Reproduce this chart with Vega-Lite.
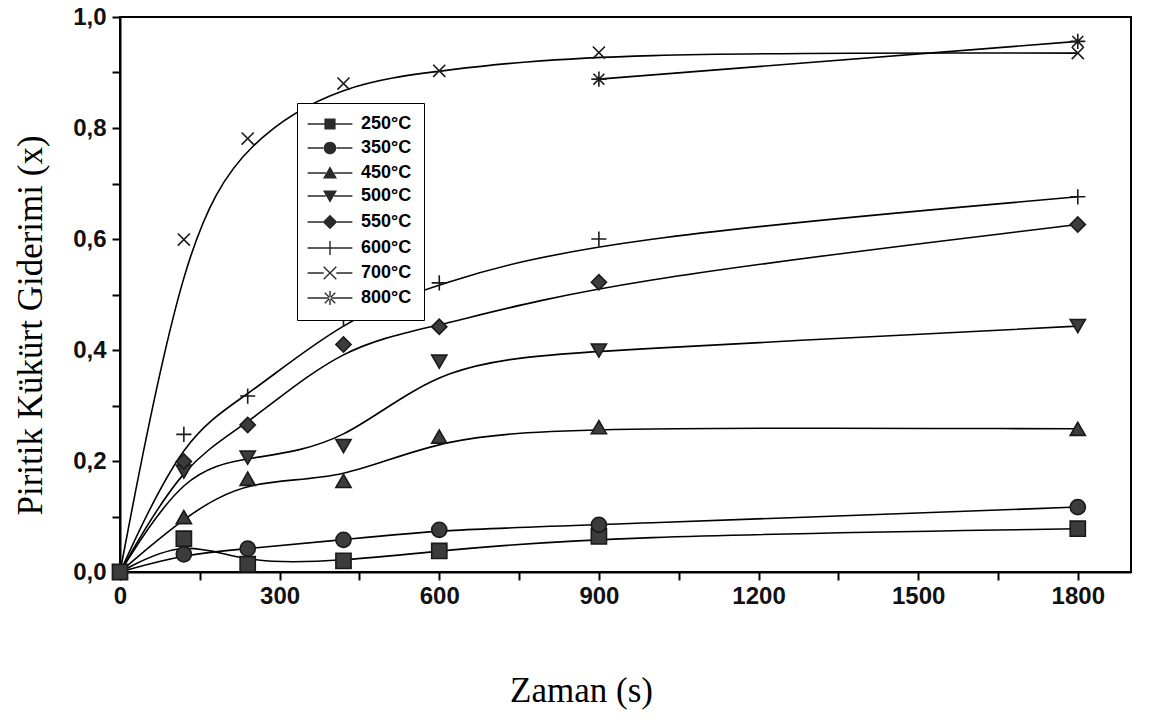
{
  "$schema": "https://vega.github.io/schema/vega-lite/v6.json",
  "width": 1011,
  "height": 555,
  "autosize": {"type": "none"},
  "padding": {"left": 120, "top": 17, "right": 24, "bottom": 148},
  "background": "white",
  "data": {
    "values": [
      {"T": "250°C", "t": 0, "x": 0},
      {"T": "250°C", "t": 120, "x": 0.06},
      {"T": "250°C", "t": 240, "x": 0.014},
      {"T": "250°C", "t": 420, "x": 0.02},
      {"T": "250°C", "t": 600, "x": 0.038},
      {"T": "250°C", "t": 900, "x": 0.064},
      {"T": "250°C", "t": 1800, "x": 0.078},
      {"T": "350°C", "t": 0, "x": 0},
      {"T": "350°C", "t": 120, "x": 0.032},
      {"T": "350°C", "t": 240, "x": 0.042},
      {"T": "350°C", "t": 420, "x": 0.058},
      {"T": "350°C", "t": 600, "x": 0.076},
      {"T": "350°C", "t": 900, "x": 0.085},
      {"T": "350°C", "t": 1800, "x": 0.117},
      {"T": "450°C", "t": 0, "x": 0},
      {"T": "450°C", "t": 120, "x": 0.099},
      {"T": "450°C", "t": 240, "x": 0.168},
      {"T": "450°C", "t": 420, "x": 0.164},
      {"T": "450°C", "t": 600, "x": 0.244},
      {"T": "450°C", "t": 900, "x": 0.261},
      {"T": "450°C", "t": 1800, "x": 0.258},
      {"T": "500°C", "t": 0, "x": 0},
      {"T": "500°C", "t": 120, "x": 0.181},
      {"T": "500°C", "t": 240, "x": 0.206},
      {"T": "500°C", "t": 420, "x": 0.227},
      {"T": "500°C", "t": 600, "x": 0.379},
      {"T": "500°C", "t": 900, "x": 0.399},
      {"T": "500°C", "t": 1800, "x": 0.443},
      {"T": "550°C", "t": 0, "x": 0},
      {"T": "550°C", "t": 120, "x": 0.199},
      {"T": "550°C", "t": 240, "x": 0.265},
      {"T": "550°C", "t": 420, "x": 0.41},
      {"T": "550°C", "t": 600, "x": 0.442},
      {"T": "550°C", "t": 900, "x": 0.522},
      {"T": "550°C", "t": 1800, "x": 0.626},
      {"T": "600°C", "t": 0, "x": 0},
      {"T": "600°C", "t": 120, "x": 0.248},
      {"T": "600°C", "t": 240, "x": 0.317},
      {"T": "600°C", "t": 420, "x": 0.455},
      {"T": "600°C", "t": 600, "x": 0.521},
      {"T": "600°C", "t": 900, "x": 0.6},
      {"T": "600°C", "t": 1800, "x": 0.676},
      {"T": "700°C", "t": 0, "x": 0},
      {"T": "700°C", "t": 120, "x": 0.599},
      {"T": "700°C", "t": 240, "x": 0.781},
      {"T": "700°C", "t": 420, "x": 0.88},
      {"T": "700°C", "t": 600, "x": 0.903},
      {"T": "700°C", "t": 900, "x": 0.936},
      {"T": "700°C", "t": 1800, "x": 0.935},
      {"T": "800°C", "t": 900, "x": 0.888},
      {"T": "800°C", "t": 1800, "x": 0.956}
    ]
  },
  "encoding": {
    "x": {
      "field": "t",
      "type": "quantitative",
      "title": "Zaman (s)",
      "scale": {"domain": [0, 1900], "nice": false, "zero": false},
      "axis": {
        "values": [0, 150, 300, 450, 600, 750, 900, 1050, 1200, 1350, 1500, 1650, 1800],
        "labelExpr": "datum.value % 300 == 0 ? '' + datum.value : ''",
        "grid": false,
        "domainColor": "black",
        "domainWidth": 2,
        "tickColor": "black",
        "tickWidth": 2,
        "tickSize": 8,
        "labelFont": "Liberation Sans",
        "labelFontSize": 24,
        "labelFontWeight": "bold",
        "labelColor": "#111",
        "labelPadding": 4,
        "labelFlush": false,
        "labelOverlap": false,
        "titleFont": "Liberation Serif",
        "titleFontSize": 35,
        "titleFontWeight": "normal",
        "titleColor": "black",
        "titleX": 461,
        "titleY": 118,
        "titleAlign": "center",
        "titleBaseline": "middle"
      }
    },
    "y": {
      "field": "x",
      "type": "quantitative",
      "title": "Piritik Kükürt Giderimi (x)",
      "scale": {"domain": [0, 1], "nice": false},
      "axis": {
        "values": [0, 0.1, 0.2, 0.3, 0.4, 0.5, 0.6, 0.7, 0.8, 0.9, 1],
        "labelExpr": "round(datum.value * 10) % 2 == 0 ? replace(format(datum.value, '.1f'), '.', ',') : ''",
        "grid": false,
        "domainColor": "black",
        "domainWidth": 2,
        "tickColor": "black",
        "tickWidth": 2,
        "tickSize": 8,
        "labelFont": "Liberation Sans",
        "labelFontSize": 24,
        "labelFontWeight": "bold",
        "labelColor": "#111",
        "labelPadding": 6,
        "labelOverlap": false,
        "titleFont": "Liberation Serif",
        "titleFontSize": 35,
        "titleFontWeight": "normal",
        "titleColor": "black",
        "titleAngle": -90,
        "titleX": -90,
        "titleY": 308,
        "titleAlign": "center",
        "titleBaseline": "middle"
      }
    }
  },
  "layer": [
    {
      "mark": {"type": "line", "interpolate": "basis", "color": "black", "strokeWidth": 1.6},
      "encoding": {"detail": {"field": "T", "type": "nominal"}}
    },
    {
      "transform": [{"filter": "datum.t > 0 || datum.T == '250°C'"}],
      "mark": {"type": "point", "filled": true, "fill": "#3c3c3c", "stroke": "#1a1a1a", "strokeWidth": 1.6, "size": 230, "opacity": 1},
      "encoding": {
        "shape": {
          "field": "T",
          "type": "nominal",
          "legend": null,
          "scale": {
            "domain": ["250°C", "350°C", "450°C", "500°C", "550°C", "600°C", "700°C", "800°C"],
            "range": [
              "square",
              "circle",
              "triangle-up",
              "triangle-down",
              "diamond",
              "M-1,0L1,0M0,-1L0,1",
              "M-0.8,-0.8L0.8,0.8M-0.8,0.8L0.8,-0.8",
              "M-1,0L1,0M0,-1L0,1M-0.72,-0.72L0.72,0.72M-0.72,0.72L0.72,-0.72"
            ]
          }
        }
      }
    },
    {
      "mark": {"type": "point", "filled": true, "fill": "#2a2a2a", "size": 196, "opacity": 0},
      "encoding": {
        "shape": {
          "field": "T",
          "type": "nominal",
          "scale": {
            "domain": ["250°C", "350°C", "450°C", "500°C", "550°C", "600°C", "700°C", "800°C"],
            "range": [
              "M-3.2,-0.1H-0.8V0.1H-3.2Z M0.8,-0.1H3.2V0.1H0.8Z M-0.8,-0.8H0.8V0.8H-0.8Z",
              "M-3.2,-0.1H-0.85V0.1H-3.2Z M0.85,-0.1H3.2V0.1H0.85Z M-0.9,0A0.9,0.9,0,1,0,0.9,0A0.9,0.9,0,1,0,-0.9,0Z",
              "M-3.2,-0.1H-0.6V0.1H-3.2Z M0.6,-0.1H3.2V0.1H0.6Z M0,-0.95L1,0.8L-1,0.8Z",
              "M-3.2,-0.1H-0.6V0.1H-3.2Z M0.6,-0.1H3.2V0.1H0.6Z M0,0.95L1,-0.8L-1,-0.8Z",
              "M-3.2,-0.1H-1V0.1H-3.2Z M1,-0.1H3.2V0.1H1Z M0,-1.05L1.05,0L0,1.05L-1.05,0Z",
              "M-3.2,-0.1H3.2V0.1H-3.2Z M-0.1,-1H0.1V1H-0.1Z",
              "M-3.2,-0.1H-0.9V0.1H-3.2Z M0.9,-0.1H3.2V0.1H0.9Z M-0.97,-0.83L0.83,0.97L0.97,0.83L-0.83,-0.97Z M-0.97,0.83L-0.83,0.97L0.97,-0.83L0.83,-0.97Z",
              "M-3.2,-0.1H3.2V0.1H-3.2Z M-0.1,-1H0.1V1H-0.1Z M-0.82,-0.68L0.68,0.82L0.82,0.68L-0.68,-0.82Z M-0.82,0.68L-0.68,0.82L0.82,-0.68L0.68,-0.82Z"
            ]
          },
          "legend": {
            "orient": "none",
            "legendX": 177,
            "legendY": 86,
            "title": null,
            "strokeColor": "black",
            "fillColor": "white",
            "padding": 12,
            "symbolSize": 196,
            "symbolOffset": 12,
            "labelOffset": 22,
            "rowPadding": 5,
            "labelFont": "Liberation Sans",
            "labelFontSize": 18,
            "labelFontWeight": "bold",
            "labelColor": "black",
            "symbolFillColor": "#2a2a2a",
            "symbolOpacity": 1,
            "encode": {
              "symbols": {
                "update": {
                  "fill": {"value": "#2a2a2a"},
                  "opacity": {"value": 1},
                  "fillOpacity": {"value": 1}
                }
              }
            }
          }
        }
      }
    }
  ],
  "resolve": {"scale": {"shape": "independent"}},
  "config": {
    "view": {"stroke": "black", "strokeWidth": 2},
    "font": "Liberation Sans"
  }
}
